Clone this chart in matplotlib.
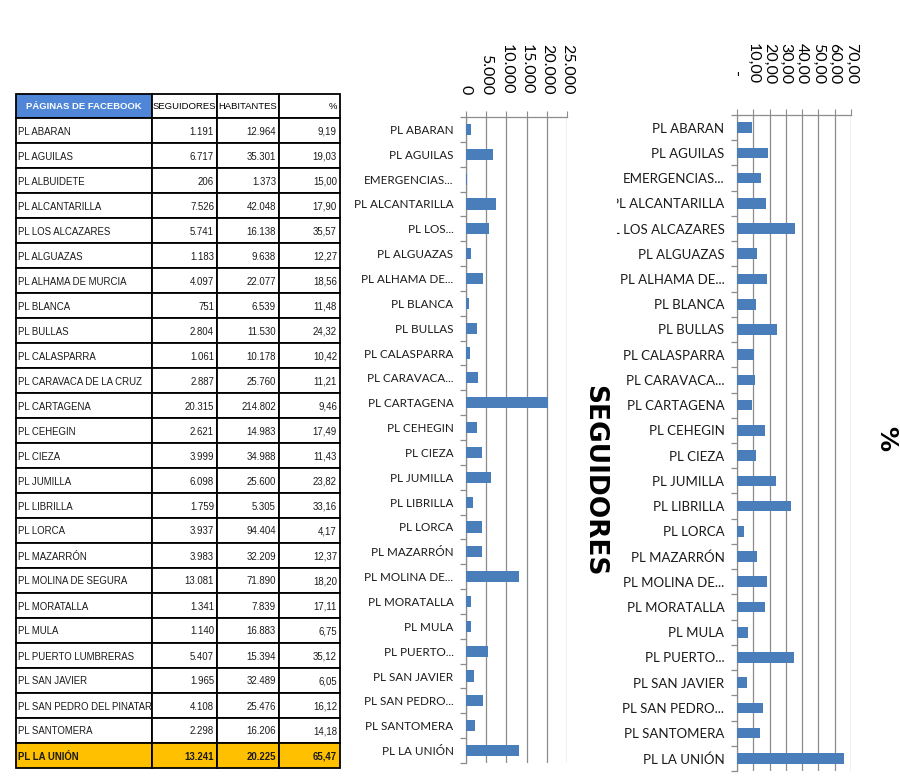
import matplotlib
matplotlib.use("Agg")
import matplotlib.pyplot as plt
from matplotlib import font_manager
from matplotlib.patches import Rectangle
from matplotlib.transforms import Bbox, TransformedBbox
import numpy as np

# ---------------- data ----------------
table_names = ["PL ABARAN", "PL AGUILAS", "PL ALBUIDETE", "PL ALCANTARILLA", "PL LOS ALCAZARES",
               "PL ALGUAZAS", "PL ALHAMA DE MURCIA", "PL BLANCA", "PL BULLAS", "PL CALASPARRA",
               "PL CARAVACA DE LA CRUZ", "PL CARTAGENA", "PL CEHEGIN", "PL CIEZA", "PL JUMILLA",
               "PL LIBRILLA", "PL LORCA", "PL MAZARRÓN", "PL MOLINA DE SEGURA", "PL MORATALLA",
               "PL MULA", "PL PUERTO LUMBRERAS", "PL SAN JAVIER", "PL SAN PEDRO DEL PINATAR",
               "PL SANTOMERA", "PL LA UNIÓN"]
seguidores = [1191, 6717, 206, 7526, 5741, 1183, 4097, 751, 2804, 1061, 2887, 20315, 2621,
              3999, 6098, 1759, 3937, 3983, 13081, 1341, 1140, 5407, 1965, 4108, 2298, 13241]
habitantes = [12964, 35301, 1373, 42048, 16138, 9638, 22077, 6539, 11530, 10178, 25760, 214802,
              14983, 34988, 25600, 5305, 94404, 32209, 71890, 7839, 16883, 15394, 32489, 25476,
              16206, 20225]
porcentaje = [9.19, 19.03, 15.00, 17.90, 35.57, 12.27, 18.56, 11.48, 24.32, 10.42, 11.21, 9.46,
              17.49, 11.43, 23.82, 33.16, 4.17, 12.37, 18.20, 17.11, 6.75, 35.12, 6.05, 16.12,
              14.18, 65.47]
table_headers = ["PÁGINAS DE FACEBOOK", "SEGUIDORES", "HABITANTES", "%"]

chart1_labels = ["PL ABARAN", "PL AGUILAS", "EMERGENCIAS...", "PL ALCANTARILLA", "PL LOS...",
                 "PL ALGUAZAS", "PL ALHAMA DE...", "PL BLANCA", "PL BULLAS", "PL CALASPARRA",
                 "PL CARAVACA...", "PL CARTAGENA", "PL CEHEGIN", "PL CIEZA", "PL JUMILLA",
                 "PL LIBRILLA", "PL LORCA", "PL MAZARRÓN", "PL MOLINA DE...", "PL MORATALLA",
                 "PL MULA", "PL PUERTO...", "PL SAN JAVIER", "PL SAN PEDRO...", "PL SANTOMERA",
                 "PL LA UNIÓN"]
chart2_labels = ["PL ABARAN", "PL AGUILAS", "EMERGENCIAS...", "PL ALCANTARILLA", "PL LOS ALCAZARES",
                 "PL ALGUAZAS", "PL ALHAMA DE...", "PL BLANCA", "PL BULLAS", "PL CALASPARRA",
                 "PL CARAVACA...", "PL CARTAGENA", "PL CEHEGIN", "PL CIEZA", "PL JUMILLA",
                 "PL LIBRILLA", "PL LORCA", "PL MAZARRÓN", "PL MOLINA DE...", "PL MORATALLA",
                 "PL MULA", "PL PUERTO...", "PL SAN JAVIER", "PL SAN PEDRO...", "PL SANTOMERA",
                 "PL LA UNIÓN"]
seg_ticks = [0, 5000, 10000, 15000, 20000, 25000]
seg_tick_labels = ["0", "5.000", "10.000", "15.000", "20.000", "25.000"]
pct_ticks = [0, 10, 20, 30, 40, 50, 60, 70]
pct_tick_labels = ["-  ", "10,00", "20,00", "30,00", "40,00", "50,00", "60,00", "70,00"]

# ---------------- fonts ----------------
avail = {f.name for f in font_manager.fontManager.ttflist}
if "Liberation Sans Narrow" in avail:
    TABLE_FONT, TABLE_SIZE, HEAD_SIZE = ["Liberation Sans Narrow", "DejaVu Sans"], 8.3, 8.0
    C1_FONT, C1_SIZE = ["Liberation Sans Narrow", "DejaVu Sans"], 9.8
else:
    TABLE_FONT, TABLE_SIZE, HEAD_SIZE = ["Liberation Sans", "DejaVu Sans"], 6.9, 6.8
    C1_FONT, C1_SIZE = ["Lato", "DejaVu Sans"], 8.4
CH_FONT = ["Lato", "DejaVu Sans"] if "Lato" in avail else ["DejaVu Sans"]

W, H = 900, 784
BLUE = "#4A7EBB"
GRAY = "#8C8C8C"
fig = plt.figure(figsize=(W / 100, H / 100), dpi=100)
fig.patch.set_facecolor("white")

# ---------------- table ----------------
axt = fig.add_axes([0, 0, 1, 1])
axt.set_xlim(0, W)
axt.set_ylim(H, 0)
axt.axis("off")
col_x = [16, 152, 217, 279, 340]
top, head_h, row_h = 94, 24, 25

def cell(x0, x1, y0, y1, fc):
    axt.add_patch(Rectangle((x0, y0), x1 - x0, y1 - y0, facecolor=fc,
                            edgecolor="black", lw=1.3, zorder=1))

# header
for j, hdr in enumerate(table_headers):
    fc = "#4F86D8" if j == 0 else "white"
    cell(col_x[j], col_x[j + 1], top, top + head_h, fc)
    yc = top + head_h / 2
    if j == 0:
        axt.text((col_x[0] + col_x[1]) / 2, yc, hdr, ha="center", va="center", color="white",
                 fontweight="bold", family=TABLE_FONT, fontsize=HEAD_SIZE, zorder=3)
    elif j == 3:
        axt.text(col_x[4] - 3, yc, hdr, ha="right", va="center", color="black",
                 family=TABLE_FONT, fontsize=HEAD_SIZE, zorder=3)
    else:
        axt.text((col_x[j] + col_x[j + 1]) / 2, yc, hdr, ha="center", va="center",
                 color="black", family=TABLE_FONT, fontsize=HEAD_SIZE, zorder=3)

n = len(table_names)
for i in range(n):
    y0 = top + head_h + i * row_h
    last = i == n - 1
    fc = "#FFC000" if last else "white"
    fw = "bold" if last else "normal"
    vals = [table_names[i],
            f"{seguidores[i]:,}".replace(",", "."),
            f"{habitantes[i]:,}".replace(",", "."),
            f"{porcentaje[i]:.2f}".replace(".", ",")]
    for j in range(4):
        cell(col_x[j], col_x[j + 1], y0, y0 + row_h, fc)
        yc = y0 + row_h / 2 + 1
        if j == 0:
            axt.text(col_x[0] + 1.5, yc, vals[j], ha="left", va="center", fontweight=fw,
                     family=TABLE_FONT, fontsize=TABLE_SIZE, color="#1a1a1a", zorder=3)
        else:
            axt.text(col_x[j + 1] - 3, yc, vals[j], ha="right", va="center", fontweight=fw,
                     family=TABLE_FONT, fontsize=TABLE_SIZE, color="#1a1a1a", zorder=3)

# ---------------- charts ----------------
def px_axes(x0, y0, x1, y1):
    return fig.add_axes([x0 / W, 1 - y1 / H, (x1 - x0) / W, (y1 - y0) / H])

def style_chart(ax, values, labels, xmax, ticks, tick_labels, label_font, label_size, xpad,
                bar_h):
    k = len(values)
    pos = np.arange(k)
    ax.barh(pos, values, height=bar_h, color=BLUE, zorder=3)
    ax.set_ylim(k - 0.5, -0.5)
    ax.set_xlim(0, xmax)
    ax.xaxis.tick_top()
    ax.set_xticks(ticks)
    ax.set_xticklabels(tick_labels, rotation=-90, family=CH_FONT, fontsize=11.5)
    ax.tick_params(axis="x", top=True, bottom=False, length=4, color=GRAY, pad=xpad)
    ax.grid(axis="x", color=GRAY, lw=0.9, zorder=0)
    ax.set_axisbelow(True)
    ax.set_yticks(pos)
    ax.set_yticklabels(labels, family=label_font, fontsize=label_size, color="#1a1a1a")
    ax.set_yticks(np.arange(k + 1) - 0.5, minor=True)
    ax.tick_params(axis="y", which="major", length=0, pad=9)
    ax.tick_params(axis="y", which="minor", length=4, color=GRAY, width=0.9)
    for s in ("right", "bottom"):
        ax.spines[s].set_visible(False)
    for s in ("top", "left"):
        ax.spines[s].set_color(GRAY)
        ax.spines[s].set_linewidth(0.9)
    ax.set_facecolor("none")

ax1 = px_axes(466, 117, 567, 763)
style_chart(ax1, seguidores, chart1_labels, 25000, seg_ticks, seg_tick_labels,
            C1_FONT, C1_SIZE, 12, 0.45)

ax2 = px_axes(737, 115, 851, 771)
style_chart(ax2, porcentaje, chart2_labels, 70, pct_ticks, pct_tick_labels,
            CH_FONT, 9.5, 18, 0.42)
clip = TransformedBbox(Bbox([[617 / W, 0], [1, 1]]), fig.transFigure)
for t in ax2.yaxis.get_major_ticks():
    t.label1.set_clip_box(clip)
    t.label1.set_clip_on(True)

fig.text(594 / W, 1 - 481 / H, "SEGUIDORES", rotation=-90, ha="center", va="center",
         fontsize=19, fontweight="bold", family=["DejaVu Sans"])
fig.text(886 / W, 1 - 438 / H, "%", rotation=-90, ha="center", va="center",
         fontsize=18, fontweight="bold", family=["DejaVu Sans"])

fig.savefig("out.png", dpi=100, facecolor="white")
